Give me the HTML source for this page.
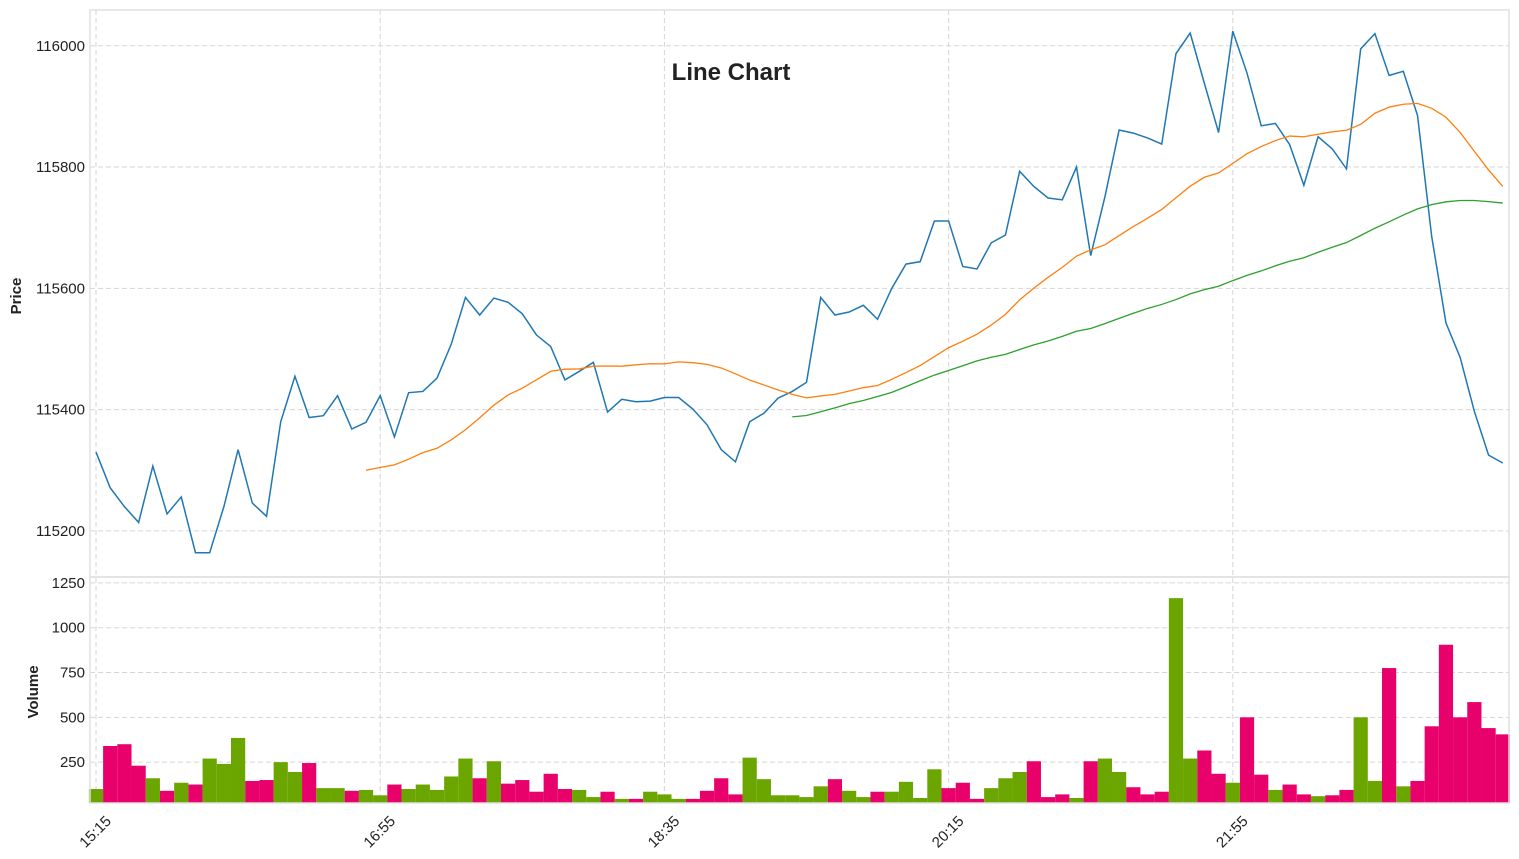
<!DOCTYPE html>
<html><head><meta charset="utf-8">
<style>
html,body{margin:0;padding:0;background:#fff;}
svg{display:block;font-family:"Liberation Sans",sans-serif;}
</style></head>
<body>
<svg id="chart" width="1519" height="859" viewBox="0 0 1519 859">
<rect x="0" y="0" width="1519" height="859" fill="#fff"/>
<g id="grid"></g>
<g id="vol"></g>
<g id="lines"></g>
<g id="axes"></g>
<rect x="90" y="10" width="1419" height="567" fill="none" stroke="#e0e0e0" stroke-width="1.5"/>
<rect x="90" y="577" width="1419" height="226" fill="none" stroke="#e0e0e0" stroke-width="1.5"/>
<text x="731" y="80" text-anchor="middle" font-size="24" font-weight="bold" fill="#222">Line Chart</text>
<text transform="translate(21,296) rotate(-90)" text-anchor="middle" font-size="15" font-weight="bold" fill="#222">Price</text>
<text transform="translate(38,692) rotate(-90)" text-anchor="middle" font-size="15" font-weight="bold" fill="#222">Volume</text>
</svg>
<script>
const prices = [115330,115271,115240,115214,115307,115228,115256,115164,115164,115240,
115334,115246,115224,115380,115455,115387,115390,115423,115368,115379,
115423,115355,115428,115430,115452,115508,115585,115556,115584,115577,
115558,115523,115504,115449,115463,115478,115396,115417,115413,115414,
115420,115420,115401,115375,115334,115314,115380,115394,115419,115430,
115445,115585,115556,115561,115572,115549,115600,115640,115644,115711,
115711,115636,115632,115675,115688,115793,115768,115749,115746,115800,
115654,115751,115861,115856,115848,115838,115987,116021,115938,115857,
116024,115955,115868,115872,115837,115770,115850,115830,115797,115995,
116020,115951,115958,115885,115685,115543,115486,115397,115325,115312];
const volumes = [100,340,350,230,160,90,135,125,270,240,
385,145,150,250,195,245,105,105,90,95,
65,125,100,125,95,170,270,160,255,130,
150,85,185,100,95,55,85,45,45,85,
70,45,45,90,160,70,275,155,65,65,
55,115,155,90,55,85,85,140,50,210,
105,135,45,105,160,195,255,55,70,50,
255,270,195,110,70,85,1165,270,315,185,
135,500,180,95,125,70,60,65,95,500,
145,775,115,145,450,905,500,585,440,405];
const upBars = [1,0,0,0,1,0,1,0,1,1,1,0,0,1,1,0,1,1,0,1,
1,0,1,1,1,1,1,0,1,0,0,0,0,0,1,1,0,1,0,1,
1,1,0,0,0,0,1,1,1,1,1,1,0,1,1,0,1,1,1,1,
0,0,0,1,1,1,0,0,0,1,0,1,1,0,0,0,1,1,0,0,
1,0,0,1,0,0,1,0,0,1,1,0,1,0,0,0,0,0,0,0];
const priceTicks = [115200,115400,115600,115800,116000];
const volTicks = [250,500,750,1000,1250];
const xTickIdx = [0,20,40,60,80];
const xTickLabels = ["15:15","16:55","18:35","20:15","21:55"];
const maPeriods = [20,50];

const NS="http://www.w3.org/2000/svg";
function mk(tag,attrs,parent){const e=document.createElementNS(NS,tag);for(const k in attrs)e.setAttribute(k,attrs[k]);parent.appendChild(e);return e;}
const xS=i=>96+14.21*i;
const pMin=115124,pMax=116059,pTop=10,pBot=577;
const yP=v=>pBot-(v-pMin)/(pMax-pMin)*(pBot-pTop);
const vMin=22,vMax=1283,vTop=577,vBot=803;
const yV=v=>vBot-(v-vMin)/(vMax-vMin)*(vBot-vTop);

const grid=document.getElementById('grid'),axes=document.getElementById('axes');
priceTicks.forEach(t=>{
  const l=mk('line',{x1:90,x2:1509,y1:yP(t),y2:yP(t),stroke:'#d6d6d6','stroke-dasharray':'5,3'},grid);
  
  
  const tx=mk('text',{x:85,y:yP(t)+5,'text-anchor':'end','font-size':15,fill:'#222'},axes);
  tx.textContent=t;
  
  
});
volTicks.forEach(t=>{
  const l=mk('line',{x1:90,x2:1509,y1:yV(t),y2:yV(t),stroke:'#d6d6d6','stroke-dasharray':'5,3'},grid);
  
  
  const tx=mk('text',{x:85,y:yV(t)+5,'text-anchor':'end','font-size':15,fill:'#222'},axes);
  tx.textContent=t;
  
  
});
xTickIdx.forEach((i,k)=>{
  const x=xS(i);
  const l=mk('line',{x1:x,x2:x,y1:10,y2:803,stroke:'#d6d6d6','stroke-dasharray':'5,3'},grid);
  
  
  const tx=mk('text',{transform:`translate(${x+16},${822}) rotate(-45)`,'text-anchor':'end','font-size':15,fill:'#222'},axes);
  tx.textContent=xTickLabels[k];
  
  
});

const vol=document.getElementById('vol');
volumes.forEach((v,i)=>{
  const y=yV(v);
  const r=mk('rect',{x:xS(i)-7.1,y:y,width:14.2,height:Math.max(0,vBot-y),fill:upBars[i]?'#6aa500':'#e8006b'},vol);
  
  
});

const lines=document.getElementById('lines');
const pl=mk('polyline',{points:prices.map((p,i)=>xS(i)+','+yP(p)).join(' '),fill:'none',stroke:'#1f77b4','stroke-width':1.5},lines);


const maColors=['#ff7f0e','#2ca02c'];
maPeriods.forEach((n,k)=>{
  const pts=[];
  for(let i=n-1;i<prices.length;i++){let s=0;for(let j=i-n+1;j<=i;j++)s+=prices[j];pts.push(xS(i)+','+yP(s/n));}
  const m=mk('polyline',{points:pts.join(' '),fill:'none',stroke:maColors[k],'stroke-width':1.3},lines);
  
  
});
</script>
</body></html>
